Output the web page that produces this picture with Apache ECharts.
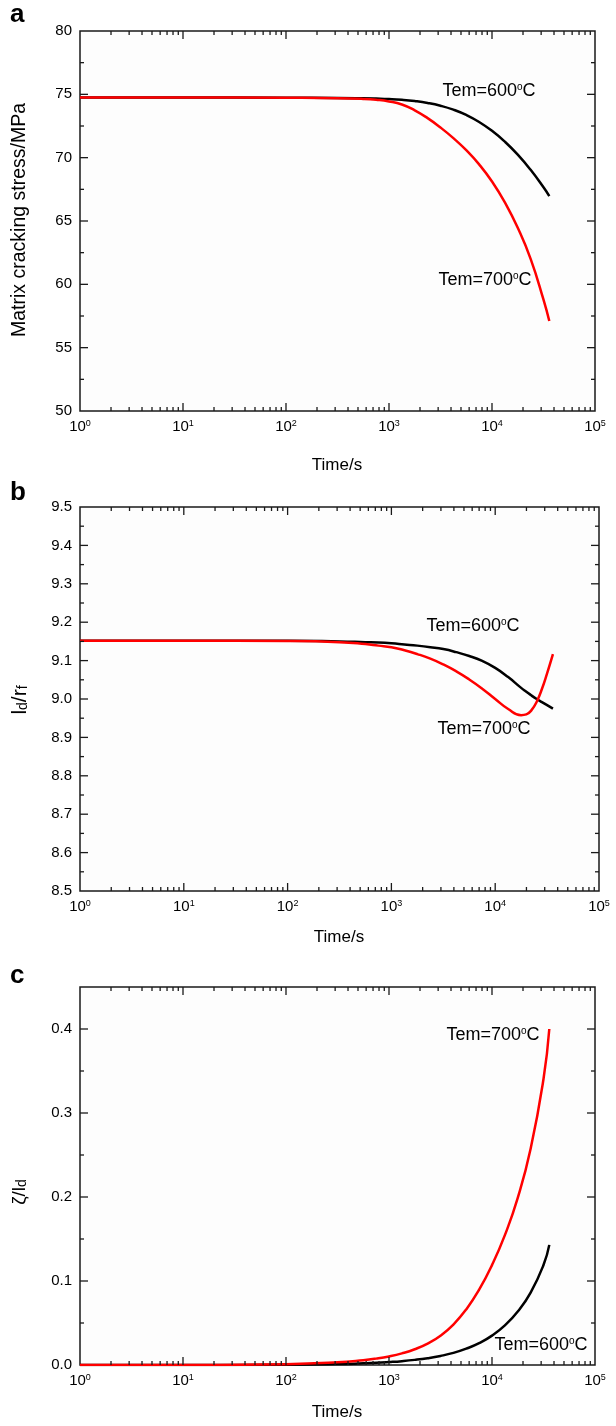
<!DOCTYPE html>
<html><head><meta charset="utf-8">
<script src="https://cdn.jsdelivr.net/npm/echarts@6/dist/echarts.min.js"></script>
<style>html,body{margin:0;padding:0;background:#fff}#c{width:616px;height:1426px}</style>
</head><body><div id="c"></div>
<script>
// ---- data ----
const xTickExponents = [0, 1, 2, 3, 4, 5];

const timeA  = [1, 10, 100, 316, 562, 750, 1000, 1334, 1778, 2371, 3162, 4217, 5623, 7499, 10000, 13335, 17783, 23714, 31623, 36000];
const black600A = [74.75, 74.75, 74.74, 74.72, 74.69, 74.665, 74.63, 74.57, 74.47, 74.32, 74.10, 73.79, 73.37, 72.82, 72.12, 71.26, 70.24, 69.04, 67.66, 66.97];
const red700A   = [74.75, 74.75, 74.73, 74.70, 74.64, 74.57, 74.44, 74.20, 73.74, 73.12, 72.38, 71.54, 70.59, 69.47, 68.12, 66.47, 64.46, 62.01, 58.79, 57.10];
const yTicksA = [50, 55, 60, 65, 70, 75, 80];

const timeB  = [1, 10, 100, 316, 562, 750, 1000, 1334, 1778, 2371, 3162, 4217, 5623, 7499, 10000, 13335, 17783, 19953, 22387, 25119, 28184, 31623, 36000];
const black600B = [9.152, 9.152, 9.152, 9.150, 9.148, 9.147, 9.145, 9.142, 9.139, 9.135, 9.130, 9.122, 9.112, 9.099, 9.081, 9.057, 9.029, 9.019, 9.009, 9.000, 8.992, 8.984, 8.975];
const red700B   = [9.152, 9.152, 9.151, 9.148, 9.143, 9.139, 9.135, 9.127, 9.117, 9.105, 9.090, 9.072, 9.051, 9.027, 9.000, 8.974, 8.958, 8.960, 8.971, 8.993, 9.026, 9.067, 9.117];
const yTicksB = [8.5, 8.6, 8.7, 8.8, 8.9, 9.0, 9.1, 9.2, 9.3, 9.4, 9.5];

const timeC  = [1, 10, 100, 316, 562, 750, 1000, 1334, 1778, 2371, 3162, 4217, 5623, 7499, 10000, 13335, 17783, 23714, 31623, 36000];
const black600C = [0, 0, 0.0003, 0.0011, 0.002, 0.0026, 0.0035, 0.0046, 0.0061, 0.0081, 0.0108, 0.0144, 0.0194, 0.026, 0.035, 0.0472, 0.0636, 0.0862, 0.119, 0.143];
const red700C   = [0, 0.0001, 0.001, 0.0032, 0.0057, 0.0076, 0.0102, 0.0138, 0.0187, 0.0255, 0.0349, 0.0482, 0.0662, 0.0896, 0.1189, 0.1546, 0.1989, 0.2574, 0.3404, 0.40];
const yTicksC = [0.0, 0.1, 0.2, 0.3, 0.4];
const yMaxC = 0.45;

// ---- helpers ----
const FONT = '"Liberation Sans", Arial, sans-serif';
const pair = (xs, ys) => xs.map((x, i) => [x, ys[i]]);
const xMin = Math.pow(10, xTickExponents[0]);
const xMax = Math.pow(10, xTickExponents[xTickExponents.length - 1]);

function tickSeries(idx, ymin, ymax, yMajor, yStep) {
  const data = [];
  for (let i = 0; i < xTickExponents.length - 1; i++) {
    const base = Math.pow(10, xTickExponents[i]);
    if (i > 0) data.push([base, 0, 8]);
    for (let k = 2; k <= 9; k++) data.push([k * base, 0, 4]);
  }
  yMajor.forEach(v => { if (v > ymin + 1e-9 && v < ymax - 1e-9) data.push([v, 1, 8]); });
  for (let v = ymin + yStep / 2; v < ymax - 1e-9; v += yStep) data.push([v, 1, 4]);
  return {
    type: 'custom', xAxisIndex: idx, yAxisIndex: idx, silent: true, clip: false, z: 5,
    animation: false, data,
    renderItem(params, api) {
      const v = api.value(0), kind = api.value(1), len = api.value(2);
      const style = { stroke: '#1a1a1a', lineWidth: 1.3 };
      if (kind === 0) {
        const b = api.coord([v, ymin]), t = api.coord([v, ymax]);
        return { type: 'group', children: [
          { type: 'line', shape: { x1: b[0], y1: b[1], x2: b[0], y2: b[1] - len }, style },
          { type: 'line', shape: { x1: t[0], y1: t[1], x2: t[0], y2: t[1] + len }, style }
        ]};
      } else {
        const l = api.coord([xMin, v]), r = api.coord([xMax, v]);
        return { type: 'group', children: [
          { type: 'line', shape: { x1: l[0], y1: l[1], x2: l[0] + len, y2: l[1] }, style },
          { type: 'line', shape: { x1: r[0], y1: r[1], x2: r[0] - len, y2: r[1] }, style }
        ]};
      }
    }
  };
}

const grids = [
  { left: 80, top: 31, width: 515, height: 380 },
  { left: 80, top: 507, width: 519, height: 384 },
  { left: 80, top: 987, width: 515, height: 378 }
].map(g => Object.assign(g, { show: true, borderColor: '#1a1a1a', borderWidth: 1.5, backgroundColor: '#fdfdfd' }));

function xAxis(i) {
  return {
    type: 'log', logBase: 10, gridIndex: i, min: xMin, max: xMax,
    axisLine: { show: false }, axisTick: { show: false }, splitLine: { show: false }, minorTick: { show: false },
    axisLabel: {
      margin: 8, color: '#000', fontFamily: FONT, fontSize: 15,
      formatter: v => '{b|10}{s|' + Math.round(Math.log10(v)) + '}',
      rich: { b: { fontSize: 15, fontFamily: FONT, color: '#000' },
              s: { fontSize: 9, fontFamily: FONT, color: '#000', verticalAlign: 'top' } }
    }
  };
}
function yAxis(i, ticks, max, fmt) {
  const interval = +(ticks[1] - ticks[0]).toFixed(6);
  return {
    type: 'value', gridIndex: i, min: ticks[0], max: max, interval: interval,
    axisLine: { show: false }, axisTick: { show: false }, splitLine: { show: false },
    axisLabel: {
      margin: 8, color: '#000', fontFamily: FONT, fontSize: 15,
      formatter: v => ticks.some(t => Math.abs(t - v) < 1e-9) ? fmt(v) : ''
    }
  };
}

function line(i, xs, ys, color) {
  return { type: 'line', xAxisIndex: i, yAxisIndex: i, data: pair(xs, ys), showSymbol: false,
    smooth: 0.5, lineStyle: { color, width: 2.5 }, itemStyle: { color }, z: 3, animation: false };
}

function tem(x, y, t) {
  return { type: 'text', x, y, z: 10, style: { text: 'Tem=' + t + '{o|o}C', align: 'center', verticalAlign: 'middle',
    font: '18px ' + FONT, fill: '#000',
    rich: { o: { fontSize: 10, fontFamily: FONT, verticalAlign: 'top', fill: '#000' } } } };
}
function title(x, y, txt) {
  return { type: 'text', x, y, z: 10, style: { text: txt, align: 'center', verticalAlign: 'middle', font: '17px ' + FONT, fill: '#000' } };
}
function ytitle(x, y, txt, size, rich) {
  return { type: 'text', x, y, rotation: Math.PI / 2, z: 10, style: { text: txt, align: 'center', verticalAlign: 'middle',
    font: size + 'px ' + FONT, fill: '#000', rich: rich || {} } };
}
function letter(x, y, t) {
  return { type: 'text', x, y, z: 10, style: { text: t, align: 'left', verticalAlign: 'middle', font: 'bold 26px ' + FONT, fill: '#000' } };
}
const subRich = { sub: { fontSize: 14, fontFamily: FONT, verticalAlign: 'bottom', fill: '#000' } };

const chart = echarts.init(document.getElementById('c'), null, { renderer: 'canvas' });
chart.setOption({
  animation: false,
  backgroundColor: '#fff',
  grid: grids,
  xAxis: [xAxis(0), xAxis(1), xAxis(2)],
  yAxis: [
    yAxis(0, yTicksA, yTicksA[yTicksA.length - 1], v => String(Math.round(v))),
    yAxis(1, yTicksB, yTicksB[yTicksB.length - 1], v => v.toFixed(1)),
    yAxis(2, yTicksC, yMaxC, v => v.toFixed(1))
  ],
  series: [
    tickSeries(0, yTicksA[0], yTicksA[yTicksA.length - 1], yTicksA, 5),
    tickSeries(1, yTicksB[0], yTicksB[yTicksB.length - 1], yTicksB, 0.1),
    tickSeries(2, 0, yMaxC, yTicksC, 0.1),
    line(0, timeA, black600A, '#000'),
    line(0, timeA, red700A, '#ff0000'),
    line(1, timeB, black600B, '#000'),
    line(1, timeB, red700B, '#ff0000'),
    line(2, timeC, black600C, '#000'),
    line(2, timeC, red700C, '#ff0000')
  ],
  graphic: [
    letter(10, 15, 'a'), letter(10, 493, 'b'), letter(10, 976, 'c'),
    tem(489, 91, '600'), tem(485, 280, '700'),
    tem(473, 626, '600'), tem(484, 729, '700'),
    tem(493, 1035, '700'), tem(541, 1345, '600'),
    title(337, 465, 'Time/s'), title(339, 937, 'Time/s'), title(337, 1412, 'Time/s'),
    ytitle(20, 220, 'Matrix cracking stress/MPa', 19.5),
    ytitle(20, 700, 'l{sub|d}/r{sub|f}', 21, subRich),
    ytitle(20, 1192, 'ζ/l{sub|d}', 19, subRich)
  ]
});
</script></body></html>
